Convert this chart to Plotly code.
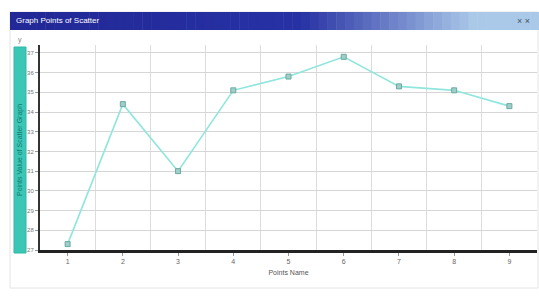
import plotly.graph_objects as go

# ---- data ----
points = [1, 2, 3, 4, 5, 6, 7, 8, 9]
values = [27.3, 34.4, 31.0, 35.1, 35.8, 36.8, 35.3, 35.1, 34.3]
y_ticks = [27, 28, 29, 30, 31, 32, 33, 34, 35, 36, 37]
window_title = "Graph Points of Scatter"
x_title = "Points Name"
y_title = "Points Value of Scatter Graph"

W, H = 539, 300
L, R, T, B = 40, 2, 45, 50
PW, PH = W - L - R, H - T - B


def px(x):
    return (x - L) / PW


def py(y):
    return (H - B - y) / PH


fig = go.Figure()
fig.add_trace(go.Scatter(
    x=points, y=values, mode="lines+markers",
    line=dict(color="#8fe6dc", width=1.6),
    marker=dict(symbol="square", size=5, color="#9fcfc8",
                line=dict(color="#6aa9a0", width=1)),
    showlegend=False,
))

shapes = []
# outer frame
shapes.append(dict(type="rect", xref="paper", yref="paper",
                   x0=px(10), x1=px(538), y0=py(288), y1=py(12),
                   line=dict(color="#e4e4e4", width=1), fillcolor="rgba(0,0,0,0)", layer="below"))
# title bar gradient
n = 60
c0 = (34, 40, 150)
c1 = (40, 50, 165)
c2 = (170, 200, 232)
for i in range(n):
    xa = 10 + (539 - 10) * i / n
    xb = 10 + (539 - 10) * (i + 1) / n
    t = i / (n - 1)
    if t < 0.55:
        u = t / 0.55
        c = tuple(int(c0[k] + (c1[k] - c0[k]) * u) for k in range(3))
    else:
        u = min(1, (t - 0.55) / 0.33)
        c = tuple(int(c1[k] + (c2[k] - c1[k]) * u) for k in range(3))
    shapes.append(dict(type="rect", xref="paper", yref="paper",
                       x0=px(xa), x1=px(xb + 0.5), y0=py(30), y1=py(12),
                       line=dict(width=0), fillcolor="rgb(%d,%d,%d)" % c, layer="above"))
# y title teal bar
shapes.append(dict(type="rect", xref="paper", yref="paper",
                   x0=px(14), x1=px(26), y0=py(253), y1=py(47),
                   line=dict(color="#2fb8a8", width=1), fillcolor="#3cc6b6", layer="above"))

annotations = [
    dict(text=window_title, xref="paper", yref="paper", x=px(14), y=py(21),
         xanchor="left", yanchor="middle", showarrow=False,
         font=dict(size=8, color="white", family="Liberation Sans")),
    dict(text="× ×", xref="paper", yref="paper", x=px(532), y=py(21),
         xanchor="right", yanchor="middle", showarrow=False,
         font=dict(size=9, color="#445566", family="Liberation Sans")),
    dict(text=y_title, xref="paper", yref="paper", x=px(20), y=py(150),
         xanchor="center", yanchor="middle", showarrow=False, textangle=-90,
         font=dict(size=7, color="#137a70", family="Liberation Sans")),
    dict(text="y", xref="paper", yref="paper", x=px(20), y=py(40),
         xanchor="center", yanchor="middle", showarrow=False,
         font=dict(size=7, color="#888888", family="Liberation Sans")),
]

fig.update_layout(
    width=W, height=H,
    margin=dict(l=L, r=R, t=T, b=B),
    paper_bgcolor="white", plot_bgcolor="white",
    shapes=shapes, annotations=annotations,
    xaxis=dict(range=[0.5, 9.5], tickmode="array", tickvals=points,
               ticktext=[str(p) for p in points], automargin=False,
               showgrid=False, zeroline=False,
               showline=True, linecolor="#222222", linewidth=2.5,
               ticks="outside", ticklen=3, tickcolor="#999999",
               tickfont=dict(size=7, color="#666666", family="Liberation Sans"),
               title=dict(text=x_title, font=dict(size=7, color="#555555", family="Liberation Sans"),
                          standoff=6),
               minor=dict(tickvals=[p + 0.5 for p in points[:-1]], showgrid=True,
                          gridcolor="#dddddd", gridwidth=1)),
    yaxis=dict(range=[27, 37.4], tickmode="array", tickvals=y_ticks,
               ticktext=[str(v) for v in y_ticks], automargin=False,
               showgrid=True, gridcolor="#d6d6d6", gridwidth=1, zeroline=False,
               showline=True, linecolor="#333333", linewidth=2,
               ticks="outside", ticklen=3, tickcolor="#999999",
               tickfont=dict(size=6, color="#777777", family="Liberation Sans")),
)

fig.write_html("out.html", config={"displayModeBar": False},
               post_script="document.body.style.margin='0';")
